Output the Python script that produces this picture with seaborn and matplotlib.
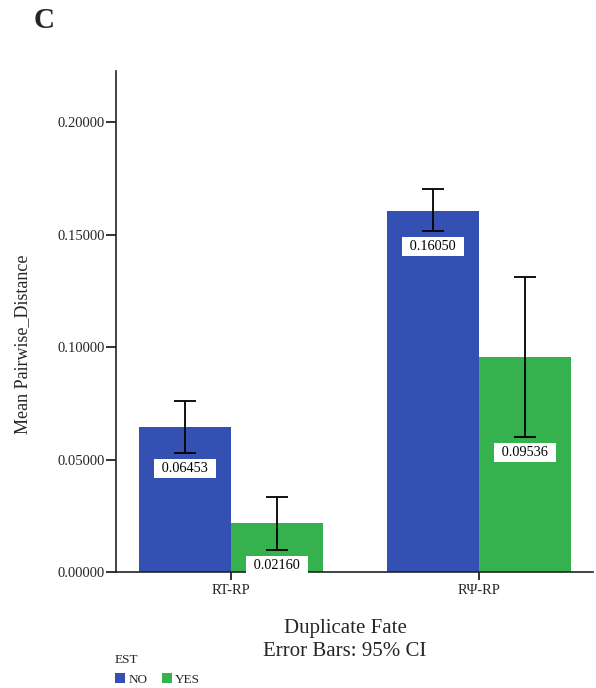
import matplotlib
matplotlib.use("Agg")
import matplotlib.pyplot as plt
import seaborn as sns
import pandas as pd
import numpy as np
from matplotlib.patches import Patch

fates = ["RT-RP", "RΨ-RP"]
est_levels = ["NO", "YES"]
mean_no = [0.06453, 0.16050]
mean_yes = [0.02160, 0.09536]
ci_low_no = [0.0529, 0.1516]
ci_high_no = [0.0760, 0.1702]
ci_low_yes = [0.0098, 0.0600]
ci_high_yes = [0.0333, 0.1311]
yticks = [0.0, 0.05, 0.10, 0.15, 0.20]

colors = {"NO": "#3550B3", "YES": "#35B24D"}

df = pd.DataFrame({
    "Duplicate Fate": fates * 2,
    "EST": ["NO"] * 2 + ["YES"] * 2,
    "Mean": mean_no + mean_yes,
    "lo": ci_low_no + ci_low_yes,
    "hi": ci_high_no + ci_high_yes,
})

sns.set_style("white")
plt.rcParams["font.family"] = ["Liberation Serif", "DejaVu Serif"]

fig = plt.figure(figsize=(5.96, 6.88), dpi=100)
ax = fig.add_axes([116/596, 1-572/688, (593-116)/596, (572-71)/688])

sns.barplot(data=df, x="Duplicate Fate", y="Mean", hue="EST", order=fates,
            hue_order=est_levels, palette=colors, errorbar=None, width=0.742,
            saturation=1, ax=ax, legend=False, linewidth=0)

# error bars and value labels
for i, est in enumerate(est_levels):
    cont = ax.containers[i]
    sub = df[df["EST"] == est].set_index("Duplicate Fate").loc[fates]
    for bar, (_, row) in zip(cont, sub.iterrows()):
        xc = bar.get_x() + bar.get_width() / 2
        m = row["Mean"]
        ax.errorbar(xc, m, yerr=[[m - row["lo"]], [row["hi"] - m]], fmt="none",
                    ecolor="black", elinewidth=1.3, capsize=8, capthick=1.3)
        ax.annotate("\u2004" + f"{m:.5f}" + "\u2004", xy=(xc, row["lo"]), xytext=(0, -6.3),
                    textcoords="offset points", ha="center", va="top",
                    fontsize=10.3, color="black",
                    bbox=dict(boxstyle="square,pad=0.22", fc="white", ec="none"))

ax.set_xlim(-0.464, 1.46)
ax.set_ylim(0, 0.2227)
ax.set_yticks(yticks)
ax.set_yticklabels([f"{v:.5f}" for v in yticks], fontsize=10.5)
ax.set_xticks([0, 1])
ax.set_xticklabels(fates, fontsize=10.5)
ax.tick_params(axis="y", direction="out", length=7, width=1.3, color="#222222", pad=1, left=True)
ax.tick_params(axis="x", direction="out", length=6, width=1.3, color="#222222", pad=3, bottom=True)

for s in ["top", "right"]:
    ax.spines[s].set_visible(False)
for s in ["left", "bottom"]:
    ax.spines[s].set_color("#222222")
    ax.spines[s].set_linewidth(1.2)

ax.set_xlabel("")
ax.set_ylabel("")
fig.text(22.5/596, 1-344/688, "Mean Pairwise_Distance", rotation=90,
         ha="center", va="center", fontsize=13)

fig.text(345/596, 1-628/688, "Duplicate Fate", ha="center", va="center", fontsize=15)
fig.text(345/596, 1-652/688, "Error Bars: 95% CI", ha="center", va="center", fontsize=15)
fig.text(34/596, 1-21/688, "C", ha="left", va="center", fontsize=21, fontweight="bold")

handles = [Patch(facecolor=colors[e], edgecolor="none", label=e) for e in est_levels]
leg = fig.legend(handles=handles, title="EST", ncol=2, loc="lower left",
                 bbox_to_anchor=(107/596, -0.008), frameon=False, fontsize=9.5,
                 title_fontsize=9.5, handlelength=0.8, handleheight=0.8,
                 handletextpad=0.2, columnspacing=1.1, borderaxespad=0.2,
                 alignment="left")

fig.savefig("out.png", dpi=100)
